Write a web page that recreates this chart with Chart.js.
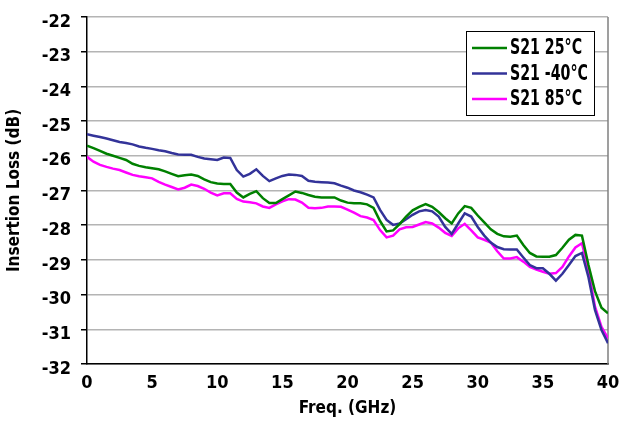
<!DOCTYPE html>
<html>
<head>
<meta charset="utf-8">
<script src="https://cdn.jsdelivr.net/npm/chart.js@4.4.1/dist/chart.umd.min.js"></script>
<style>
  html, body { margin: 0; padding: 0; background: #fff; }
  #wrap { width: 632px; height: 423px; }
</style>
</head>
<body>
<div id="wrap"><canvas id="lossChart"></canvas></div>
<script>
// Insertion loss vs frequency, three temperatures
const freqGHz = [
  0, 0.5, 1, 1.5, 2, 2.5, 3, 3.5, 4, 4.5, 5, 5.5, 6, 6.5, 7, 7.5, 8, 8.5, 9, 9.5,
  10, 10.5, 11, 11.5, 12, 12.5, 13, 13.5, 14, 14.5, 15, 15.5, 16, 16.5, 17, 17.5, 18, 18.5, 19, 19.5,
  20, 20.5, 21, 21.5, 22, 22.5, 23, 23.5, 24, 24.5, 25, 25.5, 26, 26.5, 27, 27.5, 28, 28.5, 29, 29.5,
  30, 30.5, 31, 31.5, 32, 32.5, 33, 33.5, 34, 34.5, 35, 35.5, 36, 36.5, 37, 37.5, 38, 38.5, 39, 39.5, 40
];
const s21At25 = [
  -25.71, -25.78, -25.86, -25.94, -26.00, -26.06, -26.12, -26.23, -26.29, -26.33,
  -26.36, -26.39, -26.45, -26.52, -26.59, -26.56, -26.54, -26.58, -26.68, -26.76,
  -26.80, -26.81, -26.81, -27.06, -27.20, -27.10, -27.02, -27.22, -27.36, -27.36,
  -27.25, -27.14, -27.03, -27.07, -27.13, -27.18, -27.20, -27.20, -27.20, -27.29,
  -27.35, -27.37, -27.37, -27.40, -27.50, -27.88, -28.18, -28.15, -27.97, -27.75,
  -27.57, -27.47, -27.39, -27.47, -27.62, -27.80, -27.95, -27.66, -27.45, -27.50,
  -27.72, -27.92, -28.12, -28.25, -28.32, -28.33, -28.30, -28.57, -28.80, -28.90,
  -28.91, -28.91, -28.86, -28.65, -28.42, -28.28, -28.30, -29.15, -29.90, -30.38, -30.54
];
const s21AtMinus40 = [
  -25.38, -25.42, -25.46, -25.50, -25.55, -25.60, -25.63, -25.67, -25.73, -25.77,
  -25.80, -25.84, -25.87, -25.92, -25.96, -25.97, -25.97, -26.03, -26.08, -26.10,
  -26.12, -26.05, -26.06, -26.41, -26.60, -26.52, -26.39, -26.58, -26.73, -26.65,
  -26.58, -26.54, -26.55, -26.58, -26.72, -26.75, -26.76, -26.77, -26.79, -26.86,
  -26.92, -27.00, -27.05, -27.12, -27.20, -27.56, -27.85, -27.99, -27.95, -27.83,
  -27.70, -27.60, -27.56, -27.60, -27.75, -28.05, -28.25, -27.95, -27.66, -27.75,
  -28.05, -28.30, -28.50, -28.63, -28.69, -28.70, -28.70, -28.93, -29.15, -29.24,
  -29.24, -29.40, -29.60, -29.40, -29.15, -28.89, -28.80, -29.50, -30.44, -31.02, -31.40
];
const s21At85 = [
  -26.03, -26.17, -26.26, -26.32, -26.37, -26.41, -26.48, -26.55, -26.59, -26.62,
  -26.65, -26.75, -26.83, -26.90, -26.97, -26.92, -26.83, -26.87, -26.95, -27.06,
  -27.14, -27.08, -27.08, -27.24, -27.32, -27.34, -27.37, -27.46, -27.50, -27.40,
  -27.31, -27.25, -27.26, -27.35, -27.50, -27.51, -27.50, -27.46, -27.46, -27.47,
  -27.55, -27.64, -27.74, -27.78, -27.85, -28.14, -28.35, -28.30, -28.12, -28.06,
  -28.05, -27.98, -27.91, -27.95, -28.07, -28.22, -28.31, -28.09, -27.96, -28.15,
  -28.35, -28.42, -28.50, -28.75, -28.96, -28.96, -28.92, -29.05, -29.20, -29.28,
  -29.34, -29.40, -29.38, -29.20, -28.90, -28.64, -28.52, -29.30, -30.35, -30.93, -31.26
];
const seriesLabels = ['S21 25°C', 'S21 -40°C', 'S21 85°C'];
const yTicks = [-32, -31, -30, -29, -28, -27, -26, -25, -24, -23, -22];

const FONT = "'DejaVu Sans Condensed', 'Noto Sans', sans-serif";

function pts(values) {
  return freqGHz.map((f, i) => ({ x: f, y: values[i] }));
}

// legend box drawn inside the plot, top right
const boxLegend = {
  id: 'boxLegend',
  afterDraw(chart) {
    const { ctx, chartArea } = chart;
    const w = 128, h = 84;
    const x0 = chartArea.right - 14 - w;
    const y0 = chartArea.top + 14;
    ctx.save();
    ctx.fillStyle = '#fff';
    ctx.fillRect(x0, y0, w, h);
    ctx.strokeStyle = '#000';
    ctx.lineWidth = 1;
    ctx.strokeRect(x0 + 0.5, y0 + 0.5, w, h);
    ctx.font = 'bold 21px ' + FONT;
    ctx.textBaseline = 'middle';
    chart.data.datasets.forEach((ds, i) => {
      const cy = y0 + 17 + i * 25.5;
      ctx.strokeStyle = ds.borderColor;
      ctx.lineWidth = 2.5;
      ctx.beginPath();
      ctx.moveTo(x0 + 6, cy);
      ctx.lineTo(x0 + 41, cy);
      ctx.stroke();
      ctx.fillStyle = '#000';
      ctx.save();
      ctx.translate(x0 + 44, cy + 1);
      ctx.scale(0.75, 1);
      ctx.fillText(ds.label, 0, 0);
      ctx.restore();
    });
    ctx.restore();
  }
};

// grey frame on the right side of the plot
const rightFrame = {
  id: 'rightFrame',
  beforeDatasetsDraw(chart) {
    const { ctx, chartArea } = chart;
    ctx.save();
    ctx.strokeStyle = '#7f7f7f';
    ctx.lineWidth = 1.5;
    ctx.beginPath();
    ctx.moveTo(chartArea.right, chartArea.top);
    ctx.lineTo(chartArea.right, chartArea.bottom);
    ctx.stroke();
    ctx.restore();
  }
};

const ctx = document.getElementById('lossChart').getContext('2d');
const lossChart = new Chart(ctx, {
  type: 'line',
  data: {
    datasets: [
      { label: seriesLabels[0], data: pts(s21At25), borderColor: '#008000', borderWidth: 2.5, pointRadius: 0, tension: 0 },
      { label: seriesLabels[1], data: pts(s21AtMinus40), borderColor: '#333399', borderWidth: 2.5, pointRadius: 0, tension: 0 },
      { label: seriesLabels[2], data: pts(s21At85), borderColor: '#ff00ff', borderWidth: 2.5, pointRadius: 0, tension: 0 }
    ]
  },
  options: {
    responsive: true,
    maintainAspectRatio: false,
    animation: false,
    layout: { padding: { left: 0, right: 24, top: 17, bottom: 0 } },
    plugins: {
      legend: { display: false },
      tooltip: { enabled: false }
    },
    scales: {
      x: {
        type: 'linear',
        min: 0,
        max: 40,
        ticks: { stepSize: 5, color: '#000', padding: 1, font: { family: FONT, size: 18, weight: 'bold' } },
        grid: { display: false },
        border: { display: true, color: '#000', width: 1.5 },
        title: { display: true, text: 'Freq. (GHz)', color: '#000', padding: { top: 7 }, font: { family: FONT, size: 17, weight: 'bold' } },
        afterFit(scale) { scale.height = 59; }
      },
      y: {
        min: -32,
        max: -22,
        afterBuildTicks(scale) { scale.ticks = yTicks.map(v => ({ value: v })); },
        ticks: {
          color: '#000',
          padding: 10,
          font: { family: FONT, size: 18, weight: 'bold', lineHeight: '10px' },
          // empty first line nudges the label a little below its gridline
          callback: v => ['', String(v)]
        },
        grid: { color: '#b4b4b4', lineWidth: 1.5, tickLength: 6, tickColor: '#000' },
        border: { display: true, color: '#000', width: 1.5 },
        title: { display: true, text: 'Insertion Loss (dB)', color: '#000', font: { family: FONT, size: 17, weight: 'bold' } },
        afterFit(scale) {
          scale.width = 87;
          scale.paddingTop = 0;
          scale.paddingBottom = 0;
        }
      }
    }
  },
  plugins: [rightFrame, boxLegend]
});
</script>
</body>
</html>
